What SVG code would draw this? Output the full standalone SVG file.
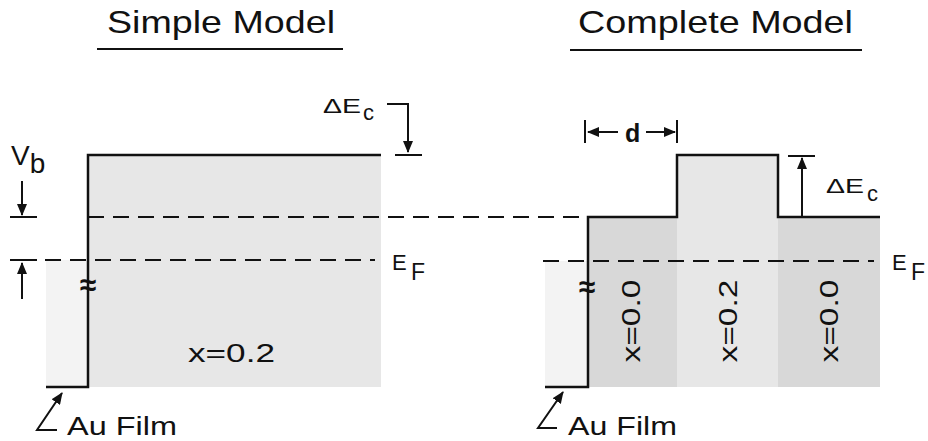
<svg xmlns="http://www.w3.org/2000/svg" width="928" height="441" viewBox="0 0 928 441">
<style>
  text { font-family: "Liberation Sans", Arial, sans-serif; fill: #111; }
  .title { font-size: 32px; }
  .lbl { font-size: 25px; }
  .band { fill: none; stroke: #111; stroke-width: 2.5; stroke-linejoin: miter; }
  .dash { fill: none; stroke: #111; stroke-width: 2; stroke-dasharray: 16 9; }
  .tick { fill: none; stroke: #111; stroke-width: 2; }
  .arrow { fill: none; stroke: #111; stroke-width: 2; }
  .ul { stroke: #111; stroke-width: 2; }
  .dark { fill: #d8d8d8; }
  .mid { fill: #e7e7e7; }
  .faint { fill: #f3f3f3; }
  .brk { font-size: 30px; font-weight: bold; }
</style>
<defs>
  <marker id="ah" markerUnits="userSpaceOnUse" markerWidth="12" markerHeight="10" refX="11" refY="5" orient="auto">
    <path d="M0,0 L12,5 L0,10 Z" fill="#111"/>
  </marker>
</defs>
<rect width="928" height="441" fill="#fff"/>

<g id="title-simple">
  <text class="title" x="107" y="33" textLength="228" lengthAdjust="spacingAndGlyphs">Simple Model</text>
  <line class="ul" x1="97" y1="49" x2="343" y2="49"/>
</g>
<g id="title-complete">
  <text class="title" x="578" y="33" textLength="275" lengthAdjust="spacingAndGlyphs">Complete Model</text>
  <line class="ul" x1="570" y1="50" x2="862" y2="50"/>
</g>

<g id="simple-band">
  <rect class="faint" x="46" y="260" width="42" height="127"/>
  <rect class="mid" x="88" y="155" width="293" height="232"/>
  <polyline class="band" points="46,387 88,387 88,155 381,155"/>
  <line class="dash" x1="45" y1="260" x2="375" y2="260"/>
  <text class="brk" x="88" y="295" text-anchor="middle">≈</text>
  <text class="lbl" x="188" y="362" textLength="87" lengthAdjust="spacingAndGlyphs">x=0.2</text>
</g>

<g id="complete-band">
  <rect class="faint" x="545" y="261" width="43" height="126"/>
  <rect class="dark" x="588" y="217" width="89" height="170"/>
  <rect class="mid" x="677" y="155" width="101" height="232"/>
  <rect class="dark" x="778" y="217" width="102" height="170"/>
  <polyline class="band" points="545,387 588,387 588,217 677,217 677,155 778,155 778,217 880,217"/>
  <line class="dash" x1="543" y1="261" x2="874" y2="261"/>
  <text class="brk" x="587" y="297" text-anchor="middle">≈</text>
  <text class="lbl" x="640" y="321" text-anchor="middle" textLength="83" lengthAdjust="spacingAndGlyphs" transform="rotate(-90 640 321)">x=0.0</text>
  <text class="lbl" x="737" y="321" text-anchor="middle" textLength="83" lengthAdjust="spacingAndGlyphs" transform="rotate(-90 737 321)">x=0.2</text>
  <text class="lbl" x="838" y="321" text-anchor="middle" textLength="83" lengthAdjust="spacingAndGlyphs" transform="rotate(-90 838 321)">x=0.0</text>
</g>

<g id="connectors">
  <line class="dash" x1="88" y1="217" x2="588" y2="217"/>
  <line class="tick" x1="10" y1="217" x2="37" y2="217"/>
  <line class="arrow" x1="22" y1="181" x2="22" y2="215" marker-end="url(#ah)"/>
  <line class="tick" x1="10" y1="260" x2="37" y2="260"/>
  <line class="arrow" x1="22" y1="299" x2="22" y2="263" marker-end="url(#ah)"/>
  <polyline class="arrow" points="387,104 408,104 408,152" marker-end="url(#ah)"/>
  <line class="tick" x1="395" y1="155" x2="422" y2="155"/>
  <line class="arrow" x1="802" y1="217" x2="802" y2="158" marker-end="url(#ah)"/>
  <line class="tick" x1="788" y1="156" x2="815" y2="156"/>
  <line class="tick" x1="585" y1="120" x2="585" y2="143"/>
  <line class="tick" x1="677" y1="120" x2="677" y2="143"/>
  <line class="arrow" x1="618" y1="132" x2="588" y2="132" marker-end="url(#ah)"/>
  <line class="arrow" x1="646" y1="132" x2="675" y2="132" marker-end="url(#ah)"/>
  <polyline class="arrow" points="57,430 37,430 62,393" marker-end="url(#ah)"/>
  <polyline class="arrow" points="557,428 538,428 563,392" marker-end="url(#ah)"/>
</g>

<g id="labels">
  <text x="11" y="165" font-size="28">V<tspan dy="8">b</tspan></text>
  <text x="323" y="113" font-size="21"><tspan textLength="38" lengthAdjust="spacingAndGlyphs">ΔE</tspan><tspan x="363" y="120" font-size="22">c</tspan></text>
  <text x="392" y="270" font-size="22">E<tspan x="411" y="280" font-size="23">F</tspan></text>
  <text x="826" y="193" font-size="21"><tspan textLength="38" lengthAdjust="spacingAndGlyphs">ΔE</tspan><tspan x="867" y="201" font-size="22">c</tspan></text>
  <text x="892" y="270" font-size="22">E<tspan x="911" y="280" font-size="23">F</tspan></text>
  <text x="625" y="142" font-size="25" font-weight="bold">d</text>
  <text class="lbl" x="67" y="435" textLength="110" lengthAdjust="spacingAndGlyphs">Au Film</text>
  <text class="lbl" x="568" y="435" textLength="109" lengthAdjust="spacingAndGlyphs">Au Film</text>
</g>
</svg>
